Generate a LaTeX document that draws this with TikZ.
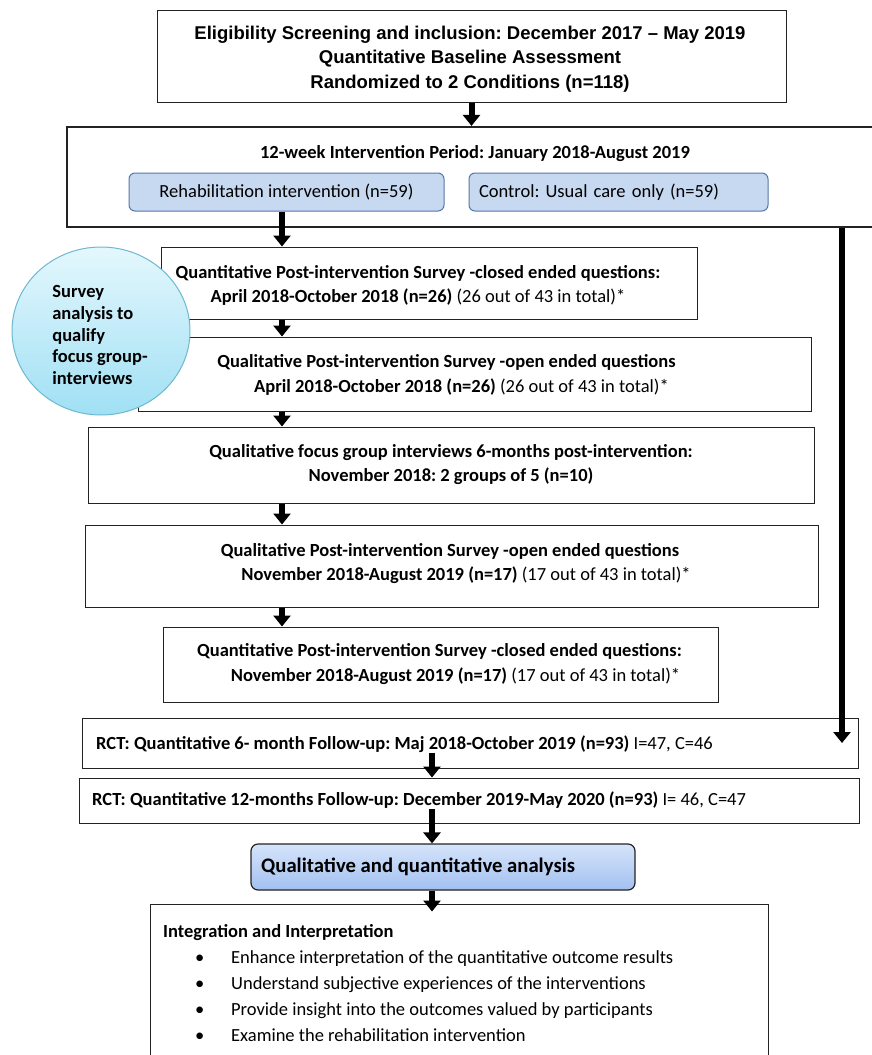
\documentclass[tikz,border=0pt]{standalone}
\usepackage{fontspec}
\setmainfont{Carlito}
\newfontfamily\arialfont{Liberation Sans}
\usetikzlibrary{arrows.meta,shapes.geometric}
\definecolor{box_gray}{RGB}{35,35,35}
\definecolor{arm_fill}{RGB}{198,217,241}
\definecolor{arm_edge}{RGB}{84,120,168}
\definecolor{bubble_top}{RGB}{228,247,253}
\definecolor{bubble_bot}{RGB}{160,224,244}
\definecolor{bubble_edge}{RGB}{110,184,208}
\definecolor{anl_top}{RGB}{214,228,251}
\definecolor{anl_bot}{RGB}{162,192,240}
\newcommand\calfont{\fontsize{18.5}{24.5}\selectfont}
\newcommand\arfont{\arialfont\bfseries\fontsize{18.5}{24.5}\selectfont}
\frenchspacing

\begin{document}
\begin{tikzpicture}[x=1pt,y=-1pt,>={Triangle[length=11pt,width=17pt]}]
    \tikzstyle{stage}=[draw=box_gray, rectangle, line width=1pt, inner sep=0pt, fill=white]
    \tikzstyle{arm}=[draw=arm_edge, fill=arm_fill, rectangle, rounded corners=6pt, line width=1pt, inner sep=0pt, font=\calfont]
    \tikzstyle{txt}=[inner sep=0pt, align=center, font=\calfont]
    \tikzstyle{flow}=[->, line width=6pt, black]

    \useasboundingbox (0,0) rectangle (871,1055);

    % boxes of the flow
    \node[stage, minimum width=629pt, minimum height=92pt] (elig)   at (471.5,56)  {};
    \node[stage, minimum width=818pt, minimum height=100pt, line width=2.2pt] (period) at (476,177) {};
    \node[arm, minimum width=315pt, minimum height=38pt] (rehab) at (286.5,192) {Rehabilitation intervention (n=59)};
    \node[arm, minimum width=299pt, minimum height=38pt, text width=279pt, inner xsep=10pt, align=left] (ctrl) at (618.5,192) {Control: Usual care only (n=59)};
    \node[stage, minimum width=536pt, minimum height=72pt] (qnt1)   at (429,283)   {};
    \node[stage, minimum width=673pt, minimum height=74pt] (qal1)   at (474.5,374) {};
    \node[stage, minimum width=726pt, minimum height=76pt] (focus)  at (451,465)   {};
    \node[stage, minimum width=733pt, minimum height=82pt] (qal2)   at (451.5,566) {};
    \node[stage, minimum width=555pt, minimum height=75pt] (qnt2)   at (440.5,664.5) {};
    \node[stage, minimum width=776pt, minimum height=50pt] (rct6)   at (470,743)   {};
    \node[stage, minimum width=780pt, minimum height=45pt] (rct12)  at (469,800.5) {};
    \node[stage, minimum width=384pt, minimum height=46pt, rounded corners=7pt, line width=1.2pt,
          top color=anl_top, bottom color=anl_bot] (anl) at (443,867) {};
    \node[stage, minimum width=618pt, minimum height=166pt] (integ)  at (459,987)   {};
    \node[ellipse, draw=bubble_edge, line width=1pt, top color=bubble_top, bottom color=bubble_bot,
          minimum width=178pt, minimum height=168pt] (bubble) at (101,331) {};

    % texts
    \node[txt, font=\arfont] (eligT) at (470,59)
        {Eligibility Screening and inclusion: December 2017 – May 2019\\Quantitative Baseline Assessment\\Randomized to 2 Conditions (n=118)};
    \node[txt, font=\calfont\bfseries] (periodT) at (475,154) {12-week Intervention Period: January 2018-August 2019};
    \node[txt] (qnt1T) at (418,285.5)
        {\textbf{Quantitative Post-intervention Survey -closed ended questions:}\\\textbf{April 2018-October 2018 (n=26)} (26 out of 43 in total)*};
    \node[txt] (qal1T) at (446.5,375)
        {\textbf{Qualitative Post-intervention Survey -open ended questions}\\\hspace*{30pt}\textbf{April 2018-October 2018 (n=26)} (26 out of 43 in total)*};
    \node[txt, font=\calfont\bfseries] (focusT) at (451,464.5)
        {Qualitative focus group interviews 6-months post-intervention:\\November 2018: 2 groups of 5 (n=10)};
    \node[txt] (qal2T) at (450,563.5)
        {\textbf{Qualitative Post-intervention Survey -open ended questions}\\\hspace*{32pt}\textbf{November 2018-August 2019 (n=17)} (17 out of 43 in total)*};
    \node[txt] (qnt2T) at (439.5,664)
        {\textbf{Quantitative Post-intervention Survey -closed ended questions:}\\\hspace*{32pt}\textbf{November 2018-August 2019 (n=17)} (17 out of 43 in total)*};
    \node[txt, anchor=west] (rct6T) at (96,744)
        {\textbf{RCT: Quantitative 6- month Follow-up: Maj 2018-October 2019 (n=93)} I=47, C=46};
    \node[txt, anchor=west] (rct12T) at (92,800.5)
        {\textbf{RCT: Quantitative 12-months Follow-up: December 2019-May 2020 (n=93)} I= 46, C=47};
    \node[txt, anchor=west, font=\bfseries\fontsize{20.7}{24}\selectfont] (anlT) at (261,867)
        {Qualitative and quantitative analysis};
    \node[txt, anchor=west, align=left, font=\fontsize{18.5}{26}\selectfont] (integT) at (163,983)
        {\textbf{Integration and Interpretation}\\
         \hspace*{32pt}\makebox[36pt][l]{\textbullet}Enhance interpretation of the quantitative outcome results\\
         \hspace*{32pt}\makebox[36pt][l]{\textbullet}Understand subjective experiences of the interventions\\
         \hspace*{32pt}\makebox[36pt][l]{\textbullet}Provide insight into the outcomes valued by participants\\
         \hspace*{32pt}\makebox[36pt][l]{\textbullet}Examine the rehabilitation intervention};
    \node[txt, align=left, font=\bfseries\fontsize{18.5}{21.75}\selectfont] (bubbleT) at (100,335)
        {Survey\\analysis to\\qualify\\focus group-\\interviews};

    % arrows
    \coordinate (lane)  at (282,0);
    \coordinate (spine) at (432,0);
    \coordinate (side)  at (842,0);
    \path[flow]
     (elig.south)           edge (elig.south |- period.north)
     (rehab.south -| lane)  edge (qnt1.north -| lane)
     (qnt1.south -| lane)   edge (qal1.north -| lane)
     (qal1.south -| lane)   edge (focus.north -| lane)
     (focus.south -| lane)  edge (qal2.north -| lane)
     (qal2.south -| lane)   edge (qnt2.north -| lane)
     (period.south -| side) edge (rct6 -| side)
     (rct6T.south -| spine) edge (rct12.north -| spine)
     (rct12T.south -| spine) edge (anl.north -| spine)
     (anl.south -| spine)   edge[shorten >=-8pt] (integ.north -| spine)
     ;
\end{tikzpicture}
\end{document}
